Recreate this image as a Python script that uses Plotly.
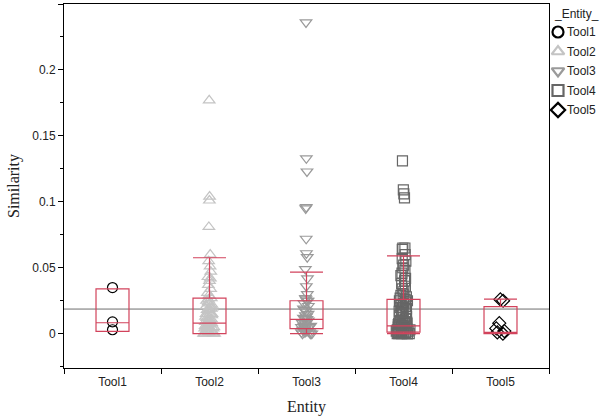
import plotly.graph_objects as go

categories = ["Tool1", "Tool2", "Tool3", "Tool4", "Tool5"]

tool1 = [0.035, 0.009, 0.003]
tool2 = [0.177, 0.104, 0.101, 0.081, 0.060, 0.055, 0.051, 0.047, 0.043, 0.042,
         0.040, 0.037, 0.034, 0.031, 0.029, 0.027, 0.026, 0.025, 0.024, 0.023,
         0.022, 0.021, 0.020, 0.019, 0.019, 0.018, 0.017, 0.016, 0.015, 0.015,
         0.014, 0.013, 0.012, 0.012, 0.011, 0.010, 0.010, 0.009, 0.009, 0.008,
         0.008, 0.007, 0.007, 0.006, 0.006, 0.005, 0.005, 0.004, 0.004, 0.003,
         0.003, 0.002, 0.002, 0.002, 0.001, 0.001, 0.001, 0.000, 0.000, 0.000, 0.000]
tool3 = [0.236, 0.133, 0.123, 0.096, 0.095, 0.072, 0.061, 0.058, 0.049, 0.042,
         0.036, 0.030, 0.027, 0.026, 0.025, 0.025, 0.023, 0.021, 0.019, 0.018,
         0.017, 0.015, 0.014, 0.013, 0.012, 0.011, 0.011, 0.010, 0.009, 0.008,
         0.008, 0.007, 0.006, 0.006, 0.005, 0.005, 0.004, 0.004, 0.003, 0.003,
         0.002, 0.002, 0.001, 0.001, 0.001, 0.000, 0.000, 0.000]
tool4 = [0.131, 0.109, 0.106, 0.103, 0.065, 0.065, 0.064, 0.060, 0.057, 0.055,
         0.052, 0.050, 0.048, 0.046, 0.044, 0.042, 0.040, 0.038, 0.036, 0.034,
         0.032, 0.030, 0.029, 0.028, 0.027, 0.026, 0.025, 0.025, 0.024, 0.023,
         0.022, 0.021, 0.020, 0.020, 0.019, 0.018, 0.017, 0.016, 0.015, 0.015,
         0.014, 0.013, 0.012, 0.011, 0.010, 0.010, 0.009, 0.009, 0.008, 0.008,
         0.007, 0.007, 0.006, 0.006, 0.006, 0.005, 0.005, 0.005, 0.004, 0.004,
         0.004, 0.003, 0.003, 0.003, 0.003, 0.002, 0.002, 0.002, 0.002, 0.001,
         0.001, 0.001, 0.001, 0.001, 0.000, 0.000, 0.000, 0.000, 0.000, 0.000]
tool5 = [0.026, 0.025, 0.008, 0.004, 0.002, 0.001, 0.000]
series = [tool1, tool2, tool3, tool4, tool5]

# box statistics
q1 = [0.0018, 0.0000, 0.0038, 0.0012, 0.0000]
median = [0.0083, 0.0080, 0.0108, 0.0060, 0.0010]
q3 = [0.0340, 0.0270, 0.0250, 0.0260, 0.0205]
lowerfence = [0.0018, 0.0000, 0.0000, 0.0000, 0.0000]
upperfence = [0.0340, 0.0576, 0.0467, 0.0590, 0.0262]
grand_mean = 0.0187

legend_title = "_Entity_"

symbols = ["circle-open", "triangle-up-open", "triangle-down-open", "square-open", "diamond-open"]
colors = ["#000000", "#c4c4c4", "#9a9a9a", "#666666", "#000000"]
jitters = [0.0, 0.45, 0.45, 0.45, 0.3]
box_color = "#d2435c"

W, H = 604, 418
ML, MR, MT, MB = 64, 0, 4, 50
PLOT_RIGHT = 549
paper_w = W - ML - MR
paper_h = H - MT - MB
main_dom = (PLOT_RIGHT - ML) / paper_w
leg_left = 552
leg_top_px, leg_bot_px = 4, 120
row0_px, row_gap = 32, 19.5

fig = go.Figure()

for i, cat in enumerate(categories):
    fig.add_trace(go.Box(
        x=[cat] * len(series[i]), y=series[i], boxpoints="all", jitter=jitters[i], pointpos=0,
        width=0.34, fillcolor="rgba(0,0,0,0)", line=dict(color="rgba(0,0,0,0)", width=0),
        marker=dict(symbol=symbols[i], color=colors[i], size=10,
                    line=dict(color=colors[i], width=1.2)),
        showlegend=False, hoverinfo="y", name=cat))

for i, cat in enumerate(categories):
    fig.add_trace(go.Box(
        x=[cat], q1=[q1[i]], median=[median[i]], q3=[q3[i]],
        lowerfence=[lowerfence[i]], upperfence=[upperfence[i]],
        width=0.34, whiskerwidth=1, boxpoints=False,
        fillcolor="rgba(0,0,0,0)", line=dict(color=box_color, width=1.2),
        showlegend=False, name=cat))

# legend drawn on its own small axis pair, one row per category
fig.add_trace(go.Scatter(
    x=[6] * len(categories), y=categories, mode="markers", xaxis="x2", yaxis="y2",
    marker=dict(symbol=symbols, color=colors, size=11, line=dict(color=colors, width=2.2)),
    cliponaxis=False, showlegend=False, hoverinfo="skip"))
for cat in categories:
    fig.add_annotation(x=13, y=cat, xref="x2", yref="y2", text=cat, showarrow=False,
                       xanchor="left", yanchor="middle",
                       font=dict(size=12, color="#222222"))
fig.add_annotation(x=0, y=(H - MB - 14) / paper_h, xref="x2", yref="paper", text=legend_title,
                   showarrow=False, xanchor="left", yanchor="middle",
                   font=dict(size=12, color="#222222"))

fig.add_shape(type="line", xref="x domain", yref="y", x0=0, x1=1, y0=grand_mean, y1=grand_mean,
              line=dict(color="#6e6e6e", width=1), layer="below")

y2_top = (row0_px - leg_top_px) / row_gap
y2_bot = (leg_bot_px - row0_px) / row_gap
serif = "Liberation Serif, Times New Roman, serif"

fig.update_layout(
    width=W, height=H,
    margin=dict(l=ML, r=MR, t=MT, b=MB, autoexpand=False),
    paper_bgcolor="white", plot_bgcolor="white",
    boxmode="overlay", showlegend=False,
    font=dict(family="Liberation Sans, Arial, sans-serif", size=12, color="#222222"),
    xaxis=dict(
        domain=[0, main_dom],
        type="category", categoryorder="array", categoryarray=categories,
        range=[-0.5, 4.5], tickson="boundaries", ticks="outside", ticklen=5, tickcolor="black",
        ticklabelstandoff=3,
        showline=True, linecolor="black", linewidth=1, mirror=True, showgrid=False,
        title=dict(text="Entity", font=dict(family=serif, size=16), standoff=12),
    ),
    yaxis=dict(
        range=[-0.026, 0.25], dtick=0.05, tick0=0, ticks="outside", ticklen=5, tickcolor="black",
        minor=dict(dtick=0.025, ticks="outside", ticklen=3, tickcolor="black"),
        showline=True, linecolor="black", linewidth=1, mirror=True, showgrid=False, zeroline=False,
        title=dict(text="Similarity", font=dict(family=serif, size=16), standoff=8),
    ),
    xaxis2=dict(domain=[(leg_left - ML) / paper_w, 1.0], range=[0, W - leg_left], anchor="y2",
                visible=False, fixedrange=True),
    yaxis2=dict(domain=[(H - MB - leg_bot_px) / paper_h, (H - MB - leg_top_px) / paper_h],
                type="category", categoryorder="array", categoryarray=categories,
                range=[y2_bot, -y2_top], anchor="x2", visible=False, fixedrange=True),
)

fig.write_html("out.html", config={"displayModeBar": False},
               post_script="document.body.style.margin='0px';")
